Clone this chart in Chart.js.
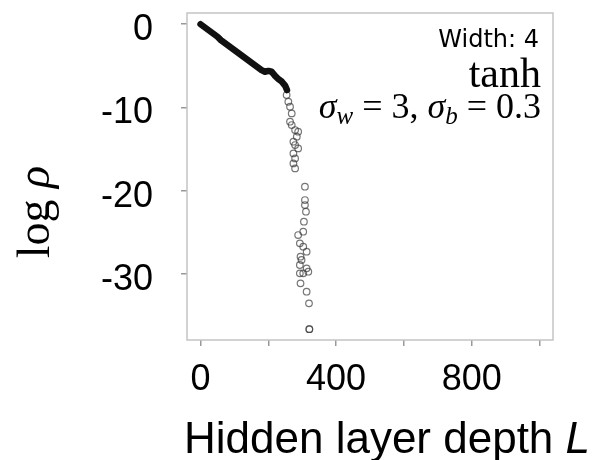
<!DOCTYPE html>
<html>
<head>
<meta charset="utf-8">
<script src="https://cdn.jsdelivr.net/npm/chart.js@4"></script>
<style>
  html, body { margin: 0; padding: 0; background: #fff; }
  canvas { display: block; }
</style>
</head>
<body>
<canvas id="chart" width="596" height="460"></canvas>
<script>
// ── Data ─────────────────────────────────────────────────────────────────────

// dense, overlapping part of the trace (reads as a thick black line)
const DENSE_DEPTH  = [0, 10, 20, 30, 40, 50, 60, 70, 80, 90, 100, 110, 120, 130,
                      140, 150, 160, 170, 180, 190, 200, 210, 220, 230, 240, 250, 255];
const DENSE_LOGRHO = [0, -0.3, -0.6, -0.9, -1.2, -1.5, -1.9, -2.2, -2.5, -2.8, -3.1,
                      -3.4, -3.7, -4.0, -4.3, -4.6, -4.9, -5.2, -5.5, -5.7, -5.6, -5.7,
                      -6.2, -6.6, -6.9, -7.4, -7.9];

// individual open circles once the trace breaks up
const SCATTER_DEPTH  = [254, 259, 264, 269, 264, 269, 279, 288, 284, 274, 279, 288, 274,
                        279, 274, 279, 308, 308, 308, 311, 305, 303, 288, 293, 303, 313,
                        295, 298, 293, 313, 318, 293, 303, 295, 313, 320, 321, 321];
const SCATTER_LOGRHO = [-8.5, -9.3, -9.9, -10.7, -11.7, -12.1, -12.7, -12.9, -13.5, -14.1,
                        -14.5, -14.9, -15.5, -16.1, -16.7, -17.3, -19.5, -21.1, -21.7,
                        -22.5, -23.7, -24.9, -25.3, -26.3, -26.7, -27.3, -27.9, -28.3,
                        -28.9, -29.3, -29.7, -29.9, -29.9, -31.1, -32.1, -33.5, -36.6, -36.6];

const X_TICKS       = [0, 200, 400, 600, 800, 1000];
const X_TICK_LABELS = ['0', '', '400', '', '800', ''];
const Y_TICKS       = [0, -10, -20, -30];
const Y_TICK_LABELS = ['0', '-10', '-20', '-30'];

// ── Helpers ──────────────────────────────────────────────────────────────────

const SANS  = '"Liberation Sans", Arial, sans-serif';
const SERIF = '"Liberation Serif", "Times New Roman", serif';

const zip = (xs, ys) => xs.map((x, i) => ({ x, y: ys[i] }));

function runWidth(ctx, pieces) {
  let w = 0;
  pieces.forEach(p => { ctx.font = p[1]; w += ctx.measureText(p[0]).width; });
  return w;
}

// draw a run of [text, font, dy] pieces, right-aligned at xRight
function drawRun(ctx, pieces, xRight, y) {
  let x = xRight - runWidth(ctx, pieces);
  pieces.forEach(p => {
    ctx.font = p[1];
    ctx.fillText(p[0], x, y + (p[2] || 0));
    x += ctx.measureText(p[0]).width;
  });
}

// ── Decorations: frame, axis titles, annotation ──────────────────────────────

const decor = {
  id: 'decor',
  afterDraw(chart) {
    const { ctx, chartArea: a } = chart;
    ctx.save();

    // plot frame
    ctx.strokeStyle = '#c4c4c4';
    ctx.lineWidth = 1.5;
    ctx.strokeRect(a.left, a.top, a.right - a.left, a.bottom - a.top);

    ctx.fillStyle = '#000';
    ctx.textBaseline = 'alphabetic';
    ctx.textAlign = 'left';

    // x title, italic L
    const xPieces = [['Hidden layer depth ', `44px ${SANS}`], ['L', `italic 44px ${SANS}`]];
    drawRun(ctx, xPieces, 387 + runWidth(ctx, xPieces) / 2, 453);

    // y title, rotated
    ctx.save();
    ctx.translate(49, 212);
    ctx.rotate(-Math.PI / 2);
    const yPieces = [['log ', `46px ${SERIF}`], ['ρ', `italic 46px ${SERIF}`]];
    drawRun(ctx, yPieces, runWidth(ctx, yPieces) / 2, 0);
    ctx.restore();

    // annotation, top right
    drawRun(ctx, [['Width: 4', '24px "DejaVu Sans", sans-serif']], 539, 47);
    drawRun(ctx, [['tanh', `42px ${SERIF}`]], 541, 87);
    drawRun(ctx, [
      ['σ', `italic 36px ${SERIF}`],
      ['w', `italic 25px ${SERIF}`, 6],
      [' = 3, ', `36px ${SERIF}`],
      ['σ', `italic 36px ${SERIF}`],
      ['b', `italic 25px ${SERIF}`, 6],
      [' = 0.3', `36px ${SERIF}`],
    ], 541, 118);

    ctx.restore();
  },
};

// ── Chart ────────────────────────────────────────────────────────────────────

new Chart(document.getElementById('chart'), {
  type: 'scatter',
  data: {
    datasets: [
      {
        data: zip(DENSE_DEPTH, DENSE_LOGRHO),
        showLine: true,
        borderColor: '#111',
        borderWidth: 6.5,
        borderCapStyle: 'round',
        borderJoinStyle: 'round',
        pointRadius: 0,
        order: 1,
      },
      {
        data: zip(SCATTER_DEPTH, SCATTER_LOGRHO),
        pointStyle: 'circle',
        pointRadius: 3.3,
        borderWidth: 1.2,
        borderColor: 'rgba(60,60,60,0.7)',
        backgroundColor: 'rgba(0,0,0,0)',
        order: 2,
      },
    ],
  },
  options: {
    responsive: false,
    animation: false,
    layout: { padding: { top: 13, right: 43, left: 0, bottom: 0 } },
    plugins: { legend: { display: false }, tooltip: { enabled: false } },
    scales: {
      x: {
        type: 'linear',
        position: 'bottom',
        min: -40,
        max: 1040,
        afterBuildTicks: s => { s.ticks = X_TICKS.map(v => ({ value: v })); },
        afterFit: s => { s.height = 120; s.paddingLeft = 0; s.paddingRight = 0; },
        border: { display: false },
        grid: { drawOnChartArea: false, drawTicks: true, tickLength: 6, color: '#999', lineWidth: 1.5 },
        ticks: {
          autoSkip: false,
          maxRotation: 0,
          padding: 12,
          color: '#000',
          font: { family: SANS, size: 36 },
          callback: v => X_TICK_LABELS[X_TICKS.indexOf(v)] ?? '',
        },
      },
      y: {
        type: 'linear',
        min: -37.9,
        max: 1.35,
        afterBuildTicks: s => { s.ticks = Y_TICKS.map(v => ({ value: v })); },
        afterFit: s => { s.width = 187; s.paddingTop = 0; s.paddingBottom = 0; },
        border: { display: false },
        grid: { drawOnChartArea: false, drawTicks: true, tickLength: 6, color: '#999', lineWidth: 1.5 },
        ticks: {
          autoSkip: false,
          padding: 28,
          color: '#000',
          // tight line height + empty first line nudges labels a few px below their tick
          font: { family: SANS, size: 36, lineHeight: 0.32 },
          callback: v => ['', Y_TICK_LABELS[Y_TICKS.indexOf(v)] ?? ''],
        },
      },
    },
  },
  plugins: [decor],
});
</script>
</body>
</html>
